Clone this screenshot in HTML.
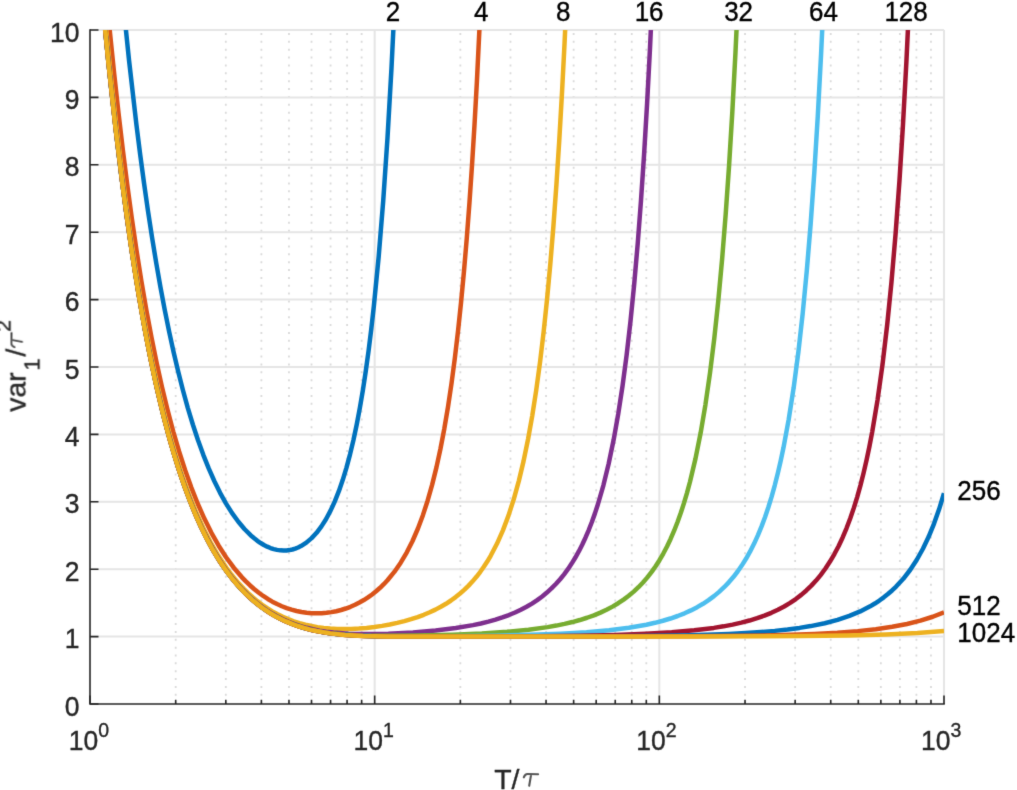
<!DOCTYPE html><html><head><meta charset="utf-8"><style>html,body{margin:0;padding:0;background:#fff;}body{width:1017px;height:790px;overflow:hidden;}svg{display:block;}text{font-family:"Liberation Sans",sans-serif;}</style></head><body>
<div id="w"><svg width="1017" height="790" viewBox="0 0 1017 790">
<defs><filter id="bl" x="0" y="0" width="1017" height="790" filterUnits="userSpaceOnUse" color-interpolation-filters="sRGB"><feConvolveMatrix order="3" kernelMatrix="0.0114 0.0841 0.0114 0.0841 0.6178 0.0841 0.0114 0.0841 0.0114" edgeMode="duplicate" preserveAlpha="true"/></filter></defs><g filter="url(#bl)">
<rect width="1017" height="790" fill="#fff"/>
<path d="M175.69 30.0V704.0M225.82 30.0V704.0M261.39 30.0V704.0M288.97 30.0V704.0M311.51 30.0V704.0M330.57 30.0V704.0M347.08 30.0V704.0M361.64 30.0V704.0M460.36 30.0V704.0M510.49 30.0V704.0M546.05 30.0V704.0M573.64 30.0V704.0M596.18 30.0V704.0M615.24 30.0V704.0M631.75 30.0V704.0M646.31 30.0V704.0M745.03 30.0V704.0M795.15 30.0V704.0M830.72 30.0V704.0M858.31 30.0V704.0M880.85 30.0V704.0M899.90 30.0V704.0M916.41 30.0V704.0M930.97 30.0V704.0" stroke="#dadada" stroke-width="1.80" stroke-dasharray="2 5.867" stroke-dashoffset="-3" fill="none"/>
<path d="M374.67 30.0V704.0M659.33 30.0V704.0M944.00 30.0V704.0M90.0 636.60H944.0M90.0 569.20H944.0M90.0 501.80H944.0M90.0 434.40H944.0M90.0 367.00H944.0M90.0 299.60H944.0M90.0 232.20H944.0M90.0 164.80H944.0M90.0 97.40H944.0M90.0 30.00H944.0" stroke="#e5e5e5" stroke-width="2.00" fill="none"/>
<defs><clipPath id="c"><rect x="90.0" y="30.0" width="854.0" height="674.0"/></clipPath></defs>
<g clip-path="url(#c)" fill="none" stroke-width="4.50" stroke-linejoin="round">
<path d="M121.88 -9.63 L129.00 60.09 L136.40 124.50 L140.24 154.99 L144.09 183.61 L148.07 211.45 L152.06 237.51 L156.19 262.76 L160.45 287.13 L164.73 309.82 L169.14 331.63 L173.69 352.51 L178.25 371.85 L182.94 390.28 L187.78 407.78 L192.91 424.77 L198.03 440.31 L203.30 454.85 L208.71 468.41 L214.40 481.28 L220.09 492.81 L225.93 503.34 L231.91 512.86 L238.17 521.56 L244.43 529.02 L250.84 535.45 L257.38 540.82 L260.66 543.06 L263.93 545.00 L267.21 546.66 L270.48 548.02 L273.75 549.10 L277.03 549.88 L280.30 550.36 L283.57 550.55 L286.56 550.45 L289.41 550.10 L292.40 549.48 L295.24 548.62 L298.09 547.49 L300.94 546.09 L306.35 542.62 L311.61 538.14 L316.59 532.77 L321.43 526.38 L326.13 518.94 L330.54 510.68 L334.81 501.36 L338.94 490.94 L342.78 479.81 L346.48 467.61 L350.04 454.33 L353.46 439.96 L356.73 424.49 L359.86 407.94 L362.85 390.32 L365.70 371.70 L368.55 351.04 L371.25 329.29 L373.81 306.55 L378.65 257.02 L383.21 200.99 L387.48 138.22 L391.46 68.68 L395.16 -7.42" stroke="#0072BD"/>
<path d="M105.94 -9.23 L110.07 33.78 L114.20 74.00 L118.47 112.86 L122.88 150.29 L127.29 185.13 L131.85 218.57 L136.54 250.56 L141.38 281.05 L146.36 310.02 L151.49 337.47 L156.61 362.71 L162.02 387.15 L167.57 410.08 L173.26 431.51 L179.10 451.49 L185.08 470.05 L191.34 487.60 L197.75 503.75 L204.44 518.84 L211.41 532.84 L218.67 545.72 L226.07 557.25 L233.76 567.70 L241.73 577.07 L245.86 581.38 L250.12 585.48 L254.40 589.24 L258.81 592.77 L263.22 595.98 L267.77 598.96 L272.33 601.63 L277.03 604.06 L281.87 606.24 L286.70 608.11 L291.54 609.68 L296.53 611.00 L301.51 612.01 L306.63 612.76 L311.61 613.19 L316.74 613.34 L321.72 613.21 L326.56 612.81 L331.40 612.14 L336.24 611.20 L341.08 609.99 L345.77 608.52 L350.47 606.78 L355.02 604.79 L359.44 602.58 L363.85 600.07 L367.98 597.43 L372.10 594.47 L376.09 591.31 L380.08 587.80 L383.78 584.20 L387.48 580.26 L394.31 571.94 L400.71 562.70 L406.83 552.31 L412.53 541.00 L417.94 528.50 L422.92 515.17 L427.61 500.72 L432.17 484.64 L436.44 467.38 L440.42 449.03 L444.27 428.96 L447.97 407.05 L451.53 383.21 L454.80 358.50 L458.07 330.72 L461.06 302.27 L463.91 272.05 L466.76 238.35 L469.46 202.66 L472.02 165.11 L474.44 125.86 L476.86 82.46 L481.27 -9.14" stroke="#D95319"/>
<path d="M102.53 -9.22 L106.94 36.96 L111.35 79.95 L116.05 122.46 L120.74 161.86 L125.58 199.42 L130.56 235.13 L135.69 268.96 L140.81 300.09 L146.22 330.26 L151.77 358.57 L157.47 385.07 L163.44 410.36 L169.56 433.82 L175.83 455.50 L182.37 475.90 L189.06 494.59 L196.04 511.98 L203.16 527.76 L210.56 542.29 L218.24 555.56 L226.36 567.79 L230.48 573.38 L234.75 578.74 L239.17 583.87 L243.58 588.61 L248.13 593.11 L252.69 597.24 L257.38 601.15 L262.22 604.81 L267.21 608.22 L272.33 611.38 L277.60 614.28 L282.86 616.86 L288.27 619.19 L293.82 621.27 L299.51 623.10 L305.35 624.69 L311.33 626.02 L317.45 627.11 L323.71 627.95 L330.26 628.57 L336.95 628.94 L343.92 629.07 L351.32 628.94 L358.87 628.55 L366.55 627.90 L374.38 626.99 L382.07 625.86 L389.75 624.48 L397.16 622.90 L404.41 621.10 L411.10 619.19 L417.65 617.05 L423.77 614.79 L429.75 612.29 L435.44 609.62 L440.85 606.77 L445.98 603.76 L450.96 600.50 L455.65 597.09 L460.07 593.55 L464.48 589.65 L468.61 585.62 L472.59 581.34 L476.44 576.82 L480.14 572.04 L483.84 566.82 L487.25 561.55 L490.67 555.79 L496.93 543.82 L502.91 530.34 L508.46 515.65 L513.87 498.89 L518.85 480.86 L523.55 461.14 L528.10 438.99 L532.23 415.86 L536.22 390.25 L540.06 361.96 L543.62 332.08 L547.03 299.48 L550.31 264.07 L553.44 225.75 L556.43 184.50 L559.27 140.30 L561.98 93.23 L564.54 43.42 L566.96 -8.94" stroke="#EDB120"/>
<path d="M101.67 -9.54 L106.23 38.18 L110.92 83.83 L115.76 127.37 L120.74 168.76 L125.87 207.98 L130.99 244.07 L136.40 279.05 L141.95 311.89 L147.65 342.62 L153.48 371.31 L159.60 398.60 L165.86 423.84 L172.41 447.60 L179.10 469.38 L186.08 489.68 L193.33 508.46 L200.74 525.41 L208.42 540.93 L216.39 555.03 L220.52 561.62 L224.65 567.75 L228.92 573.65 L233.33 579.31 L237.88 584.70 L242.44 589.67 L247.14 594.39 L251.98 598.84 L256.96 603.02 L261.94 606.82 L267.06 610.37 L272.19 613.57 L277.60 616.60 L283.00 619.30 L288.70 621.81 L294.53 624.06 L300.51 626.06 L306.63 627.80 L312.89 629.31 L319.44 630.61 L326.27 631.70 L333.39 632.57 L348.62 633.72 L365.98 634.11 L388.33 633.69 L412.95 632.41 L435.59 630.51 L455.80 628.04 L473.02 625.12 L480.85 623.45 L488.39 621.61 L495.51 619.61 L502.34 617.41 L508.89 615.02 L515.01 612.49 L520.84 609.77 L526.54 606.78 L531.95 603.59 L537.21 600.12 L542.19 596.44 L546.89 592.59 L551.44 588.44 L555.86 583.99 L560.13 579.22 L564.11 574.31 L568.10 568.90 L571.80 563.37 L575.36 557.54 L578.91 551.15 L582.19 544.72 L585.46 537.69 L588.74 530.01 L591.87 521.98 L594.86 513.62 L597.85 504.50 L603.40 485.26 L608.66 463.73 L613.64 439.78 L618.20 414.19 L622.47 386.35 L626.60 355.20 L630.44 321.75 L634.14 284.72 L637.70 243.86 L640.97 200.92 L644.10 154.24 L647.09 103.74 L649.94 49.40 L652.64 -8.75" stroke="#7E2F8E"/>
<path d="M101.39 -10.41 L106.08 38.83 L110.92 85.78 L115.90 130.42 L121.03 172.72 L126.30 212.68 L131.70 250.32 L137.25 285.66 L143.09 319.53 L149.07 351.05 L155.19 380.29 L161.45 407.34 L168.00 432.81 L174.83 456.63 L181.81 478.34 L189.06 498.44 L196.61 516.92 L204.29 533.51 L212.26 548.60 L216.39 555.65 L220.66 562.44 L224.93 568.75 L229.34 574.80 L233.90 580.57 L238.45 585.90 L243.15 590.97 L247.99 595.75 L252.97 600.25 L257.95 604.36 L263.22 608.29 L268.49 611.84 L273.75 615.04 L279.16 617.98 L284.71 620.67 L290.55 623.16 L296.53 625.39 L302.65 627.36 L308.91 629.09 L315.46 630.60 L322.15 631.88 L329.12 632.95 L344.21 634.54 L361.29 635.45 L382.35 635.79 L415.80 635.51 L452.52 634.64 L481.84 633.44 L507.04 631.80 L528.53 629.73 L547.60 627.11 L556.28 625.59 L564.54 623.90 L572.37 622.05 L579.77 620.03 L587.03 617.75 L593.86 615.30 L600.41 612.62 L606.53 609.77 L612.51 606.62 L618.20 603.24 L623.61 599.62 L628.73 595.78 L633.71 591.60 L638.41 587.21 L642.97 582.47 L647.38 577.36 L651.65 571.88 L655.63 566.21 L659.48 560.18 L663.18 553.79 L667.02 546.47 L670.58 538.98 L674.14 530.73 L677.55 522.00 L680.83 512.81 L683.96 503.15 L686.95 493.07 L689.94 482.03 L695.49 458.63 L700.61 433.02 L705.45 404.51 L710.00 373.01 L714.27 338.51 L718.26 301.10 L722.10 259.31 L725.66 214.69 L729.08 165.51 L732.35 111.49 L735.48 52.44 L738.33 -8.55" stroke="#77AC30"/>
<path d="M101.39 -9.85 L106.23 40.78 L111.21 88.91 L116.33 134.53 L121.46 176.51 L126.86 217.19 L132.42 255.39 L138.11 291.16 L144.09 325.31 L150.21 357.00 L156.47 386.32 L163.02 413.93 L169.71 439.25 L176.68 462.85 L183.94 484.71 L191.48 504.81 L195.47 514.46 L199.45 523.49 L207.28 539.57 L211.41 547.24 L215.54 554.38 L219.81 561.27 L224.22 567.88 L228.63 574.00 L233.19 579.84 L237.88 585.40 L242.58 590.51 L247.56 595.48 L252.54 600.02 L257.67 604.27 L262.94 608.23 L268.34 611.89 L273.89 615.26 L279.30 618.20 L285.00 620.95 L290.69 623.37 L296.67 625.60 L302.79 627.57 L309.19 629.33 L315.74 630.85 L322.57 632.15 L336.66 634.10 L352.61 635.38 L371.25 636.09 L396.16 636.34 L446.69 636.16 L494.51 635.64 L530.66 634.87 L560.70 633.77 L586.60 632.26 L609.09 630.29 L628.87 627.79 L646.38 624.72 L654.92 622.82 L662.89 620.76 L670.44 618.51 L677.69 616.00 L684.53 613.29 L690.93 610.40 L697.19 607.18 L703.03 603.78 L708.58 600.13 L713.99 596.12 L719.11 591.86 L724.10 587.22 L728.79 582.32 L733.35 577.02 L737.62 571.50 L741.74 565.58 L746.01 558.78 L750.14 551.45 L754.13 543.57 L757.97 535.14 L761.67 526.13 L765.09 516.94 L768.36 507.24 L771.63 496.56 L774.77 485.32 L777.75 473.54 L780.60 461.26 L783.45 447.81 L788.71 419.39 L793.70 387.47 L798.39 351.85 L802.66 313.81 L806.79 270.84 L810.63 224.23 L814.33 172.16 L817.75 116.64 L821.02 55.47 L824.01 -8.36" stroke="#4DBEEE"/>
<path d="M101.39 -9.71 L106.37 42.34 L111.35 90.35 L116.47 135.85 L121.88 179.95 L127.29 220.35 L132.98 259.21 L138.82 295.48 L144.80 329.24 L150.92 360.56 L157.32 390.16 L164.01 417.94 L170.85 443.35 L177.96 466.95 L185.36 488.74 L193.05 508.72 L197.03 518.12 L201.16 527.22 L209.13 543.11 L213.26 550.54 L217.53 557.70 L221.94 564.57 L226.36 570.93 L230.91 577.01 L235.46 582.63 L240.16 587.97 L245.00 593.02 L249.98 597.77 L255.11 602.23 L260.37 606.38 L265.78 610.24 L271.33 613.79 L277.03 617.04 L282.58 619.86 L288.27 622.42 L294.11 624.72 L300.08 626.78 L306.35 628.63 L312.75 630.23 L319.44 631.63 L326.56 632.85 L340.93 634.59 L357.44 635.71 L376.94 636.30 L404.56 636.51 L536.64 636.13 L580.34 635.64 L615.49 634.90 L645.81 633.80 L671.72 632.31 L694.21 630.35 L713.85 627.90 L723.53 626.34 L732.63 624.60 L741.32 622.65 L749.43 620.53 L757.12 618.18 L764.38 615.63 L771.35 612.81 L777.90 609.78 L784.16 606.47 L790.14 602.89 L795.83 599.02 L801.24 594.88 L806.36 590.46 L811.35 585.65 L816.04 580.57 L820.60 575.07 L825.44 568.53 L829.99 561.60 L834.40 554.08 L838.67 545.93 L842.66 537.43 L846.50 528.31 L850.20 518.55 L853.76 508.14 L857.18 497.08 L860.45 485.36 L863.58 472.99 L866.57 460.01 L869.42 446.44 L872.26 431.56 L877.53 400.02 L882.51 364.46 L887.21 324.62 L891.48 281.93 L895.61 233.51 L899.45 180.81 L903.01 124.16 L906.42 61.30 L909.70 -8.16" stroke="#A2142F"/>
<path d="M101.39 -9.68 L108.50 63.42 L116.05 132.23 L119.89 164.18 L123.88 195.28 L127.86 224.42 L131.99 252.69 L136.26 280.00 L140.53 305.48 L144.94 330.02 L149.35 352.86 L153.91 374.77 L158.60 395.73 L163.44 415.71 L168.43 434.69 L173.55 452.66 L178.67 469.18 L184.08 485.17 L189.63 500.17 L195.33 514.18 L201.16 527.24 L207.14 539.35 L213.40 550.80 L219.81 561.32 L226.50 571.14 L233.47 580.24 L240.59 588.44 L247.99 595.93 L255.68 602.71 L263.65 608.77 L272.04 614.22 L281.87 619.52 L292.11 623.98 L303.07 627.71 L314.60 630.66 L326.70 632.88 L340.08 634.52 L355.02 635.61 L372.82 636.25 L416.80 636.57 L571.66 636.39 L640.12 635.97 L690.08 635.18 L728.93 633.92 L745.59 633.07 L760.82 632.06 L774.77 630.87 L787.58 629.49 L799.53 627.90 L810.63 626.09 L824.72 623.20 L837.53 619.83 L849.35 615.90 L860.17 611.41 L870.13 606.32 L874.83 603.52 L879.38 600.53 L883.79 597.34 L887.92 594.07 L892.05 590.47 L895.89 586.81 L903.29 578.76 L910.27 569.75 L916.81 559.76 L922.93 548.76 L928.63 536.81 L934.04 523.58 L939.16 509.04 L944.00 493.16" stroke="#0072BD"/>
<path d="M101.39 -9.67 L108.22 60.66 L115.34 126.10 L122.74 186.60 L126.58 215.26 L130.56 243.16 L134.55 269.31 L138.68 294.66 L142.81 318.37 L147.08 341.28 L151.49 363.34 L155.90 383.86 L160.45 403.56 L165.15 422.39 L169.99 440.34 L174.83 456.92 L179.95 473.10 L185.08 487.97 L190.34 502.00 L195.90 515.52 L201.45 527.84 L207.28 539.63 L213.26 550.55 L219.52 560.88 L225.93 570.35 L232.48 579.01 L239.31 587.04 L246.28 594.29 L253.68 601.04 L261.23 607.03 L266.92 611.01 L272.90 614.73 L279.02 618.10 L285.42 621.19 L291.97 623.93 L298.66 626.33 L305.63 628.45 L313.04 630.31 L320.44 631.84 L328.12 633.10 L336.24 634.13 L344.92 634.95 L364.56 636.02 L390.47 636.50 L575.07 636.55 L693.49 636.23 L763.66 635.43 L790.71 634.79 L814.19 633.93 L837.39 632.69 L857.75 631.12 L875.82 629.18 L892.19 626.81 L906.99 623.97 L920.37 620.65 L932.76 616.73 L944.00 612.26" stroke="#D95319"/>
<path d="M101.39 -9.67 L108.22 60.67 L115.34 126.10 L122.74 186.60 L130.42 242.20 L134.41 268.40 L138.39 292.97 L142.52 316.79 L146.79 339.80 L151.06 361.27 L155.47 381.94 L160.03 401.78 L164.73 420.74 L169.42 438.30 L174.26 455.04 L179.24 470.93 L184.37 485.98 L189.63 500.17 L195.04 513.52 L200.59 526.02 L206.43 537.97 L212.26 548.81 L218.38 559.08 L224.65 568.54 L231.19 577.39 L237.88 585.45 L244.86 592.89 L252.12 599.69 L259.66 605.86 L264.64 609.47 L269.77 612.84 L275.03 615.95 L280.44 618.82 L285.99 621.44 L291.83 623.87 L297.66 625.99 L303.78 627.92 L310.05 629.60 L316.45 631.06 L330.12 633.38 L345.20 634.98 L362.85 635.96 L387.33 636.47 L430.18 636.60 L688.65 636.51 L799.53 636.08 L847.78 635.46 L885.93 634.48 L917.38 633.04 L944.00 631.07" stroke="#EDB120"/>
</g>
<path d="M90.0 30.0V704.0H944.0" stroke="#262626" stroke-width="1.60" fill="none" stroke-linecap="square"/>
<path d="M90.0 704.00h8.5M90.0 636.60h8.5M90.0 569.20h8.5M90.0 501.80h8.5M90.0 434.40h8.5M90.0 367.00h8.5M90.0 299.60h8.5M90.0 232.20h8.5M90.0 164.80h8.5M90.0 97.40h8.5M90.0 30.00h8.5M90.00 704.0v-8.5M374.67 704.0v-8.5M659.33 704.0v-8.5M944.00 704.0v-8.5M175.69 704.0v-4.3M225.82 704.0v-4.3M261.39 704.0v-4.3M288.97 704.0v-4.3M311.51 704.0v-4.3M330.57 704.0v-4.3M347.08 704.0v-4.3M361.64 704.0v-4.3M460.36 704.0v-4.3M510.49 704.0v-4.3M546.05 704.0v-4.3M573.64 704.0v-4.3M596.18 704.0v-4.3M615.24 704.0v-4.3M631.75 704.0v-4.3M646.31 704.0v-4.3M745.03 704.0v-4.3M795.15 704.0v-4.3M830.72 704.0v-4.3M858.31 704.0v-4.3M880.85 704.0v-4.3M899.90 704.0v-4.3M916.41 704.0v-4.3M930.97 704.0v-4.3" stroke="#262626" stroke-width="1.60" fill="none"/>
<g fill="#262626" stroke="#262626" stroke-width="0.35" font-size="26.5px" text-anchor="end">
<text transform="translate(79.6,715.6) scale(1,1.070)">0</text>
<text transform="translate(79.6,648.2) scale(1,1.070)">1</text>
<text transform="translate(79.6,580.8) scale(1,1.070)">2</text>
<text transform="translate(79.6,513.4) scale(1,1.070)">3</text>
<text transform="translate(79.6,446.0) scale(1,1.070)">4</text>
<text transform="translate(79.6,378.6) scale(1,1.070)">5</text>
<text transform="translate(79.6,311.2) scale(1,1.070)">6</text>
<text transform="translate(79.6,243.8) scale(1,1.070)">7</text>
<text transform="translate(79.6,176.4) scale(1,1.070)">8</text>
<text transform="translate(79.6,109.0) scale(1,1.070)">9</text>
<text transform="translate(79.6,41.6) scale(1,1.070)">10</text>
</g>
<g fill="#262626" stroke="#262626" stroke-width="0.35" font-size="26.5px">
<text transform="translate(68.7,749.6) scale(1,1.070)">10<tspan font-size="19.5px" dy="-12.15">0</tspan></text>
<text transform="translate(353.5,749.6) scale(1,1.070)">10<tspan font-size="19.5px" dy="-12.15">1</tspan></text>
<text transform="translate(636.2,749.6) scale(1,1.070)">10<tspan font-size="19.5px" dy="-12.15">2</tspan></text>
<text transform="translate(920.9,749.6) scale(1,1.070)">10<tspan font-size="19.5px" dy="-12.15">3</tspan></text>
</g>
<text x="494.2" y="788.5" font-size="28.5px" fill="#262626" stroke="#262626" stroke-width="0.35">T/</text>
<path d="M523.8 777.3Q525.0 774.0 527.4 774.0L538.1 774.2M531.1 774.6L529.2 785.8" stroke="#555" stroke-width="2.1" fill="none" stroke-linecap="round"/>
<g transform="translate(25.5,411.8) rotate(-90)" fill="#262626">
<g stroke="#262626" stroke-width="0.35">
<text x="0" y="0" font-size="28.5px">var</text>
<text x="41.2" y="13.9" font-size="22px">1</text>
<text x="55.3" y="0" font-size="28.5px">/</text>
</g>
<path d="M64.6 -10.9Q65.8 -14.2 68.2 -14.2L78.9 -14.0M71.9 -13.6L70.0 -3.4" stroke="#444" stroke-width="1.8" fill="none" stroke-linecap="round"/>
<text x="80" y="-15.3" font-size="21px" stroke="#262626" stroke-width="0.35">2</text>
</g>
<g fill="#000" stroke="#000" stroke-width="0.35" font-size="26.0px" text-anchor="middle">
<text transform="translate(393.0,20.7) scale(1,1.070)">2</text>
<text transform="translate(481.2,20.7) scale(1,1.070)">4</text>
<text transform="translate(563.3,20.7) scale(1,1.070)">8</text>
<text transform="translate(649.1,20.7) scale(1,1.070)">16</text>
<text transform="translate(738.6,20.7) scale(1,1.070)">32</text>
<text transform="translate(823.4,20.7) scale(1,1.070)">64</text>
<text transform="translate(906.1,20.7) scale(1,1.070)">128</text>
</g>
<g fill="#000" stroke="#000" stroke-width="0.35" font-size="26.0px">
<text transform="translate(957.3,500.3) scale(1,1.070)">256</text>
<text transform="translate(957.3,614.9) scale(1,1.070)">512</text>
<text transform="translate(957.3,641.6) scale(1,1.070)">1024</text>
</g>
</g></svg></div></body></html>
